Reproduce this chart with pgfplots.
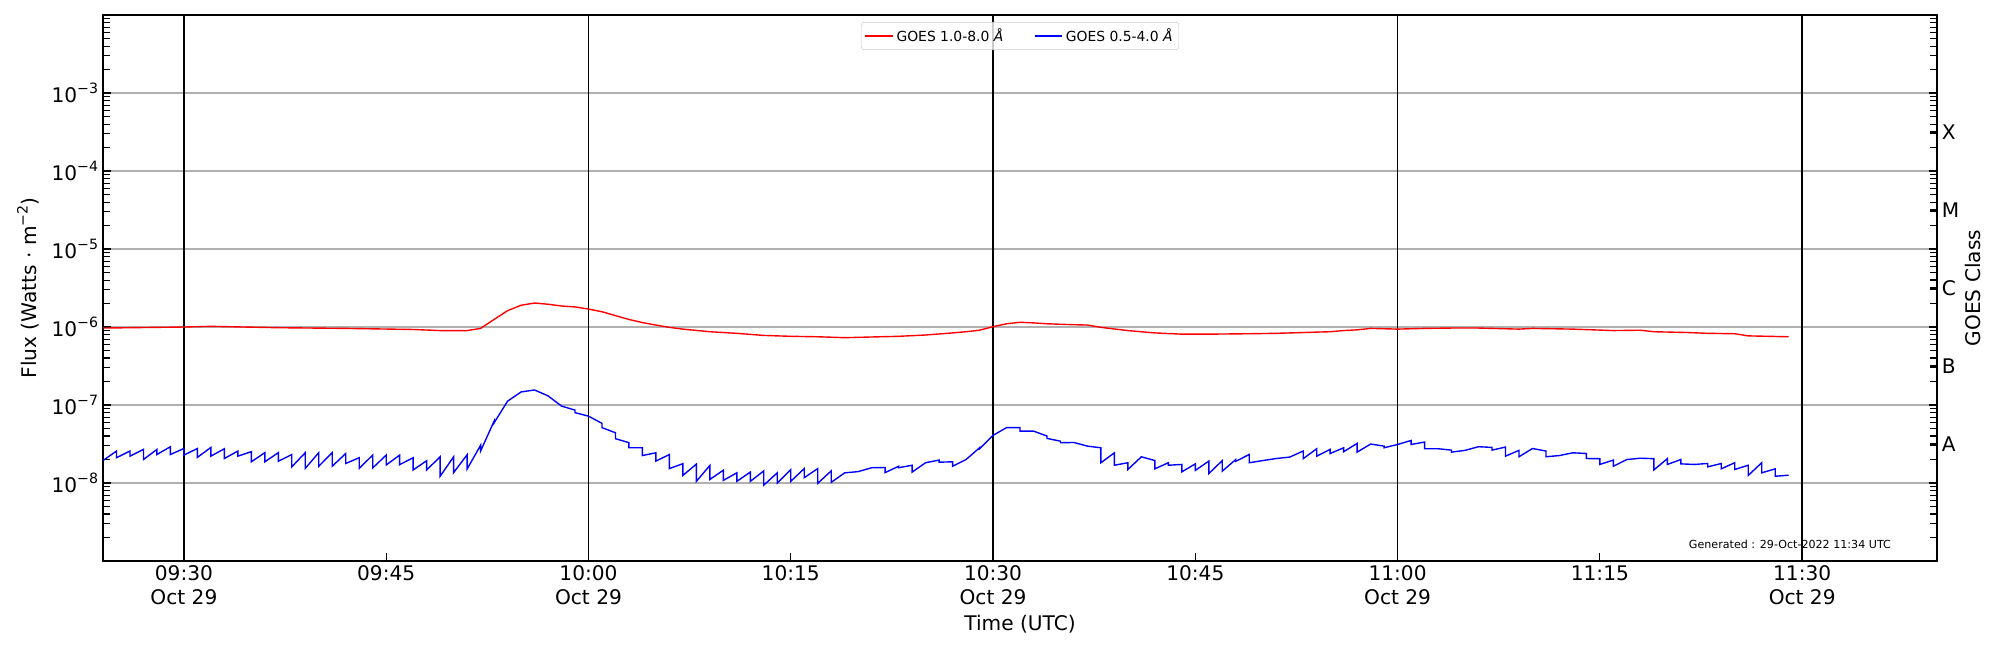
\documentclass[border=0pt]{standalone}
\usepackage{fontspec}
\setmainfont{DejaVu Sans}
\usepackage{pgfplots}
\pgfplotsset{compat=1.18}
\definecolor{gridgray}{RGB}{176,176,176}
\definecolor{legendgray}{RGB}{204,204,204}
\newcommand{\sups}[1]{\raisebox{0.42em}{\fontsize{10.2}{12}\selectfont #1}}
\newcommand{\tp}[1]{10\sups{−#1}}
\pgfplotsset{common/.style={
  scale only axis, width=1320.5pt, height=393.1pt,
  at={(74.16pt,64.08pt)}, anchor=south west,
  xmin=24, xmax=160, ymin=1e-9, ymax=1e-2,
  major tick length=5.8pt, minor tick length=5pt,
  every tick/.style={black, line width=0.8pt},
  ticklabel style={font=\fontsize{14.5}{16.8}\selectfont},
  axis line style={line width=1pt},
  minor ytick={2e-9,3e-9,4e-9,5e-9,6e-9,7e-9,8e-9,9e-9,
    2e-8,3e-8,4e-8,5e-8,6e-8,7e-8,8e-8,9e-8,
    2e-7,3e-7,4e-7,5e-7,6e-7,7e-7,8e-7,9e-7,
    2e-6,3e-6,4e-6,5e-6,6e-6,7e-6,8e-6,9e-6,
    2e-5,3e-5,4e-5,5e-5,6e-5,7e-5,8e-5,9e-5,
    2e-4,3e-4,4e-4,5e-4,6e-4,7e-4,8e-4,9e-4,
    2e-3,3e-3,4e-3,5e-3,6e-3,7e-3,8e-3,9e-3},
}}
\begin{document}
\begin{tikzpicture}
\path[use as bounding box] (0,0) rectangle (1440pt,468pt);
\begin{axis}[ymode=log, common,
  tick align=inside,
  xtick pos=bottom, ytick pos=left,
  xtick={30,45,60,75,90,105,120,135,150},
  xticklabels={{09:30\\Oct 29},{09:45},{10:00\\Oct 29},{10:15},{10:30\\Oct 29},{10:45},{11:00\\Oct 29},{11:15},{11:30\\Oct 29}},
  xticklabel style={align=center},
  minor x tick num=0,
  ytick={1e-8,1e-7,1e-6,1e-5,1e-4,1e-3},
  yticklabels={\tp{8},\tp{7},\tp{6},\tp{5},\tp{4},\tp{3}},
  ymajorgrids=true,
  major grid style={gridgray, line width=0.8pt},
  extra x ticks={30,60,90,120,150},
  extra x tick labels={},
  extra x tick style={grid=major, major grid style={black, line width=1.25pt}},
  xlabel={Time (UTC)},
  xlabel style={font=\fontsize{14.5}{16.8}\selectfont, at={(axis description cs:0.5,-0.1264)}, anchor=base},
  ylabel={Flux (Watts · m\sups{−2})},
  ylabel style={font=\fontsize{14.5}{16.8}\selectfont, at={(axis description cs:-0.0409,0.5)}, anchor=center},
  legend style={at={(0.5,1)}, yshift=-5pt, anchor=north, legend columns=2,
    draw=legendgray, rounded corners=2pt, fill=white, fill opacity=0.8, draw opacity=1, text opacity=1,
    font=\fontsize{10}{12}\selectfont, inner sep=2.5pt,
    /tikz/every even column/.append style={column sep=20pt}},
  legend image code/.code={\draw[#1, line width=1pt] (0pt,0pt) -- (20pt,0pt);},
]
\addplot[red, line width=1pt] coordinates {
(24,0.97e-6) (30,1.0e-6) (32,1.02e-6) (37,0.98e-6) (42,0.96e-6) (47,0.93e-6) (49,0.90e-6) (51,0.90e-6)
(52,0.96e-6) (53,1.25e-6) (54,1.62e-6) (55,1.90e-6) (56,2.03e-6) (57,1.96e-6) (58,1.86e-6) (59,1.81e-6)
(60,1.70e-6) (61,1.57e-6) (62,1.40e-6) (63,1.25e-6) (64,1.14e-6) (65,1.06e-6) (66,0.99e-6) (67,0.94e-6)
(69,0.87e-6) (71,0.83e-6) (73,0.78e-6) (75,0.76e-6) (77,0.75e-6) (79,0.73e-6) (81,0.745e-6) (83,0.76e-6)
(85,0.79e-6) (87,0.84e-6) (88,0.87e-6) (89,0.91e-6) (90,1.01e-6) (91,1.10e-6) (92,1.15e-6) (93,1.13e-6)
(94,1.10e-6) (96,1.07e-6) (97,1.06e-6) (98,0.99e-6) (100,0.90e-6) (102,0.84e-6) (104,0.81e-6) (106,0.81e-6)
(109,0.82e-6) (111,0.83e-6) (113,0.85e-6) (115,0.87e-6) (116,0.90e-6) (117,0.92e-6) (118,0.96e-6) (120,0.94e-6)
(122,0.96e-6) (124,0.97e-6) (126,0.97e-6) (129,0.94e-6) (130,0.96e-6) (133,0.94e-6) (136,0.90e-6) (138,0.91e-6)
(139,0.87e-6) (141.5,0.85e-6) (143,0.83e-6) (145,0.82e-6) (146,0.77e-6) (149,0.75e-6)
};
\addlegendentry{GOES 1.0-8.0 \textit{Å}}
\addplot[blue, line width=1pt] coordinates {
(24,1.94e-8)
(25,2.57e-8) (25,2.11e-8) (26,2.57e-8) (26,2.21e-8) (27,2.70e-8) (27,2.00e-8) (28,2.70e-8) (28,2.32e-8)
(29,2.92e-8) (29,2.32e-8) (30,2.77e-8) (30,2.28e-8) (31,2.77e-8) (31,2.13e-8) (32,2.86e-8) (32,2.21e-8)
(33,2.75e-8) (33,2.06e-8) (34,2.57e-8) (34,2.21e-8) (35,2.52e-8) (35,1.87e-8) (36,2.45e-8) (36,1.87e-8)
(37,2.45e-8) (37,1.90e-8) (38,2.32e-8) (38,1.61e-8) (39,2.45e-8) (39,1.54e-8) (40,2.45e-8) (40,1.64e-8)
(41,2.45e-8) (41,1.64e-8) (42,2.39e-8) (42,1.78e-8) (43,2.11e-8) (43,1.54e-8) (44,2.28e-8) (44,1.56e-8)
(45,2.28e-8) (45,1.70e-8) (46,2.28e-8) (46,1.72e-8) (47,2.11e-8) (47,1.47e-8) (48,1.93e-8) (48,1.47e-8)
(49,2.17e-8) (49,1.22e-8) (50,2.17e-8) (50,1.36e-8) (51,2.30e-8) (51,1.51e-8) (52,3.05e-8) (52,2.57e-8)
(53,6.2e-8) (53,5.9e-8) (54,1.12e-7) (55,1.47e-7) (56,1.56e-7) (57,1.31e-7) (58,9.7e-8)
(59,8.6e-8) (59,7.98e-8) (60,7.2e-8) (61,5.82e-8) (61,5.13e-8) (62,4.41e-8) (62,3.70e-8)
(63,3.29e-8) (63,2.83e-8) (64,2.83e-8) (64,2.25e-8) (65,2.44e-8) (65,1.91e-8) (66,2.32e-8) (66,1.53e-8)
(67,1.77e-8) (67,1.25e-8) (68,1.75e-8) (68,1.05e-8) (69,1.68e-8) (69,1.11e-8) (70,1.46e-8) (70,1.08e-8)
(71,1.35e-8) (71,1.05e-8) (72,1.38e-8) (72,1.05e-8) (73,1.43e-8) (73,0.94e-8) (74,1.35e-8) (74,1.00e-8)
(75,1.49e-8) (75,1.05e-8) (76,1.53e-8) (76,1.17e-8) (77,1.53e-8) (77,0.99e-8) (78,1.43e-8) (78,1.02e-8)
(79,1.35e-8) (80,1.40e-8) (81,1.57e-8) (82,1.58e-8) (82,1.36e-8) (83,1.64e-8) (83,1.57e-8)
(84,1.69e-8) (84,1.38e-8) (85,1.82e-8) (86,1.97e-8) (86,1.85e-8) (87,1.87e-8) (87,1.64e-8) (88,2.00e-8)
(89,2.83e-8) (89,2.75e-8) (90,4.08e-8) (91,5.13e-8) (92,5.13e-8) (92,4.63e-8) (93,4.63e-8)
(94,4.00e-8) (94,3.73e-8) (95,3.44e-8) (95,3.28e-8) (96,3.31e-8) (97,2.97e-8) (98,2.83e-8) (98,1.82e-8)
(99,2.44e-8) (99,1.69e-8) (100,1.82e-8) (100,1.49e-8) (101,2.17e-8) (102,1.94e-8) (102,1.52e-8)
(103,1.82e-8) (103,1.69e-8) (104,1.73e-8) (104,1.39e-8) (105,1.76e-8) (105,1.45e-8) (106,1.91e-8) (106,1.32e-8)
(107,1.94e-8) (107,1.42e-8) (108,2.00e-8) (108,1.90e-8) (109,2.32e-8) (109,1.82e-8) (110,1.94e-8)
(111,2.06e-8) (112,2.15e-8) (113,2.57e-8) (113,2.05e-8) (114,2.75e-8) (114,2.21e-8) (115,2.70e-8) (115,2.39e-8)
(116,2.83e-8) (116,2.52e-8) (117,3.22e-8) (117,2.49e-8) (118,3.16e-8) (119,2.97e-8) (119,2.83e-8) (120,3.12e-8)
(121,3.51e-8) (121,3.12e-8) (122,3.35e-8) (122,2.75e-8) (123,2.75e-8) (124,2.64e-8) (124,2.49e-8) (125,2.62e-8)
(126,2.92e-8) (127,2.86e-8) (127,2.64e-8) (128,2.89e-8) (128,2.21e-8) (129,2.62e-8) (129,2.17e-8) (130,2.77e-8)
(131,2.57e-8) (131,2.17e-8) (132,2.25e-8) (133,2.44e-8) (134,2.39e-8) (134,2.06e-8) (135,2.05e-8) (135,1.73e-8)
(136,1.97e-8) (136,1.64e-8) (137,2.00e-8) (138,2.08e-8) (139,2.05e-8) (139,1.47e-8) (140,2.05e-8) (140,1.73e-8)
(141,2.00e-8) (141,1.76e-8) (142,1.73e-8) (143,1.78e-8) (143,1.61e-8) (144,1.78e-8) (144,1.52e-8)
(145,1.82e-8) (145,1.49e-8) (146,1.69e-8) (146,1.25e-8) (147,1.82e-8) (147,1.35e-8) (148,1.52e-8) (148,1.22e-8)
(149,1.26e-8)
};
\addlegendentry{GOES 0.5-4.0 \textit{Å}}
\node[font=\fontsize{8}{10}\selectfont, anchor=base] at (axis description cs:0.9198,0.0238) {Generated : 29-Oct-2022 11:34 UTC};
\end{axis}
\begin{axis}[ymode=log, common,
  axis x line=none, axis y line*=right,
  tick align=inside,
  ytick={1e-9,1e-8,1e-7,1e-6,1e-5,1e-4,1e-3,1e-2},
  yticklabels={},
  extra y ticks={3.162e-8,3.162e-7,3.162e-6,3.162e-5,3.162e-4},
  extra y tick labels={A,B,C,M,X},
  extra y tick style={major tick length=5pt},
  ylabel={GOES Class},
  ylabel style={font=\fontsize{14.5}{16.8}\selectfont, at={(axis description cs:1.0197,0.5)}, anchor=center},
]
\addplot[draw=none] coordinates {(24,1e-8) (160,1e-3)};
\end{axis}
\end{tikzpicture}
\end{document}
